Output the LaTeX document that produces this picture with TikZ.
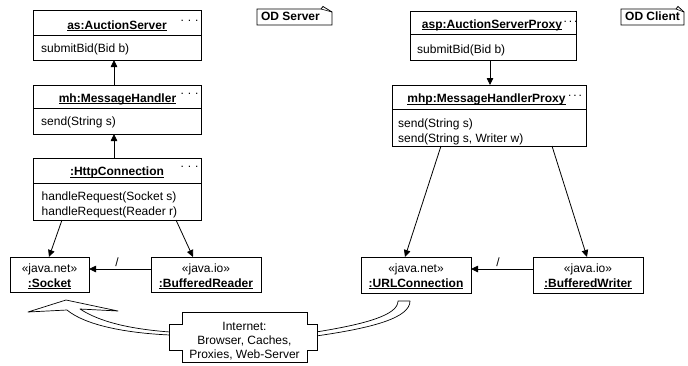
\documentclass[tikz,border=0pt]{standalone}
\usepackage{fontspec}
\setmainfont{Liberation Sans}
\usetikzlibrary{arrows.meta}
\newcommand\dfs{\fontsize{12}{14}\selectfont}
\newcommand\ulname[1]{\setbox0\hbox{#1}\rlap{\rule[-2.2pt]{\wd0}{0.8pt}}\box0}
\newcommand\mydots{.\hspace{4pt}.\hspace{4pt}.}
\newcommand\mytdots{.\hspace{2pt}.\hspace{2pt}.}
\begin{document}
\begin{tikzpicture}[x=1pt,y=-1pt,
  every node/.style={font=\dfs},
  obj/.style={draw, line width=0.9pt, inner sep=0pt, outer sep=0pt, anchor=north west},
  div/.style={line width=0.8pt},
  ttl/.style={anchor=base, inner sep=0pt, font=\dfs\bfseries},
  txt/.style={anchor=base, inner sep=0pt},
  dots/.style={anchor=base, inner sep=0pt},
  mth/.style={anchor=base west, inner sep=0pt},
  conn/.style={line width=0.8pt, -{Triangle[length=7pt,width=6.5pt]}},
  note/.style={draw, line width=0.8pt},
  wide/.style={draw, fill=white, line width=0.7pt, line join=round}]
\useasboundingbox (0,0) rectangle (688,365);

% ---------- server side ----------
\node[obj, minimum width=168pt, minimum height=50pt] (as) at (33,10) {};
\draw[div] ([yshift=-25pt]as.north west) -- ([yshift=-25pt]as.north east);
\node[ttl] (ast) at (117,29) {\ulname{as:AuctionServer}};
\node[dots] (asd) at (189.5,21.5) {\mydots};
\node[mth] (asm) at (41,52.5) {submitBid(Bid b)};

\node[obj, minimum width=168pt, minimum height=49pt] (mh) at (33,85) {};
\draw[div] ([yshift=-23pt]mh.north west) -- ([yshift=-23pt]mh.north east);
\node[ttl] (mht) at (117.5,102) {\ulname{mh:MessageHandler}};
\node[dots] (mhd) at (189.5,94.5) {\mydots};
\node[mth] (mhm) at (41,125.5) {send(String s)};

\node[obj, minimum width=168pt, minimum height=62pt] (http) at (33,158) {};
\draw[div] ([yshift=-25pt]http.north west) -- ([yshift=-25pt]http.north east);
\node[ttl] (htt) at (117,175.5) {\ulname{:HttpConnection}};
\node[dots] (htd) at (189.5,167) {\mydots};
\node[mth] (htm1) at (41.5,200.5) {handleRequest(Socket s)};
\node[mth] (htm2) at (41.5,215) {handleRequest(Reader r)};

\node[obj, minimum width=79pt, minimum height=35pt] (sock) at (10,257) {};
\node[txt] (sockst) at (49.5,272.5) {«java.net»};
\node[ttl] (sockn) at (49.5,287) {\ulname{:Socket}};

\node[obj, minimum width=110pt, minimum height=35pt] (bufr) at (151,257) {};
\node[txt] (bufrst) at (206,272.5) {«java.io»};
\node[ttl] (bufrn) at (206,287) {\ulname{:BufferedReader}};

\draw[conn] ([xshift=-3pt]mh.north) -- ([xshift=-3pt]as.south);
\draw[conn] ([xshift=-3pt]http.north) -- ([xshift=-3pt]mh.south);
\draw[conn] ([xshift=29pt]http.south west) -- ([xshift=39pt]sock.north west);
\draw[conn] ([xshift=143pt]http.south west) -- ([xshift=42pt]bufr.north west);
\draw[conn] ([yshift=-12pt]bufr.north west) -- ([yshift=-12pt]sock.north east);
\node[txt] (sl1) at (117,266.5) {/};

% ---------- client side ----------
\node[obj, minimum width=166pt, minimum height=49pt] (asp) at (410,11) {};
\draw[div] ([yshift=-23pt]asp.north west) -- ([yshift=-23pt]asp.north east);
\node[ttl] (aspt) at (492,28) {\ulname{asp:AuctionServerProxy}};
\node[dots] (aspd) at (570.5,22.5) {\mytdots};
\node[mth] (aspm) at (417,53) {submitBid(Bid b)};

\node[obj, minimum width=194pt, minimum height=61pt] (mhp) at (392,85) {};
\draw[div] ([yshift=-24pt]mhp.north west) -- ([yshift=-24pt]mhp.north east);
\node[ttl] (mhpt) at (486.5,102.5) {\ulname{mhp:MessageHandlerProxy}};
\node[dots] (mhpd) at (575,96) {\mytdots};
\node[mth] (mhpm1) at (398,127) {send(String s)};
\node[mth] (mhpm2) at (398,142) {send(String s, Writer w)};

\node[obj, minimum width=110pt, minimum height=36pt] (url) at (361,257) {};
\node[txt] (urlst) at (416,272.5) {«java.net»};
\node[ttl] (urln) at (416,287) {\ulname{:URLConnection}};

\node[obj, minimum width=110pt, minimum height=36pt] (bufw) at (533,257) {};
\node[txt] (bufwst) at (588,272.5) {«java.io»};
\node[ttl] (bufwn) at (588,287) {\ulname{:BufferedWriter}};

\draw[conn] ([xshift=-3pt]asp.south) -- ([xshift=-3pt]asp.south |- mhp.north);
\draw[conn] ([xshift=49pt]mhp.south west) -- ([xshift=44pt]url.north west);
\draw[conn] ([xshift=160pt]mhp.south west) -- ([xshift=54pt]bufw.north west);
\draw[conn] ([yshift=-12pt]bufw.north west) -- ([yshift=-12pt]url.north east);
\node[txt] (sl2) at (498,266.5) {/};

% ---------- notes ----------
\draw[note] (257,9) -- (321,9) -- (323,6.5) -- (332,12) -- (332,25) -- (257,25) -- cycle;
\draw[line width=0.6pt] (321,9) -- (332,12);
\node[ttl] (ods) at (290.5,20.5) {OD Server};
\draw[note] (621,9) -- (676,9) -- (678,6.5) -- (684,12) -- (684,25) -- (621,25) -- cycle;
\draw[line width=0.6pt] (676,9) -- (684,12);
\node[ttl] (odc) at (652.5,20.5) {OD Client};

% ---------- internet ----------
\draw[wide] (28,312) -- (66,300) -- (118,311) -- (80,309)
  .. controls (100,322) and (130,329) .. (170,332) -- (170,335)
  .. controls (125,333) and (85,325) .. (67,310) -- cycle;
\draw[wide] (398,301) -- (410,301)
  .. controls (410,318) and (372,328) .. (316,336) -- (316,332)
  .. controls (366,324) and (398,315) .. (398,301) -- cycle;
\draw[line width=0.8pt, fill=white] (182,312) -- (307,312) -- (307,324) -- (317,324) -- (317,350)
  -- (307,350) -- (307,362) -- (182,362) -- (182,350) -- (169,350) -- (169,324) -- (182,324) -- cycle;
\node[align=center, inner sep=0pt] (inet) at (244.5,341) {Internet:\\Browser, Caches,\\Proxies, Web-Server};
\end{tikzpicture}
\end{document}
